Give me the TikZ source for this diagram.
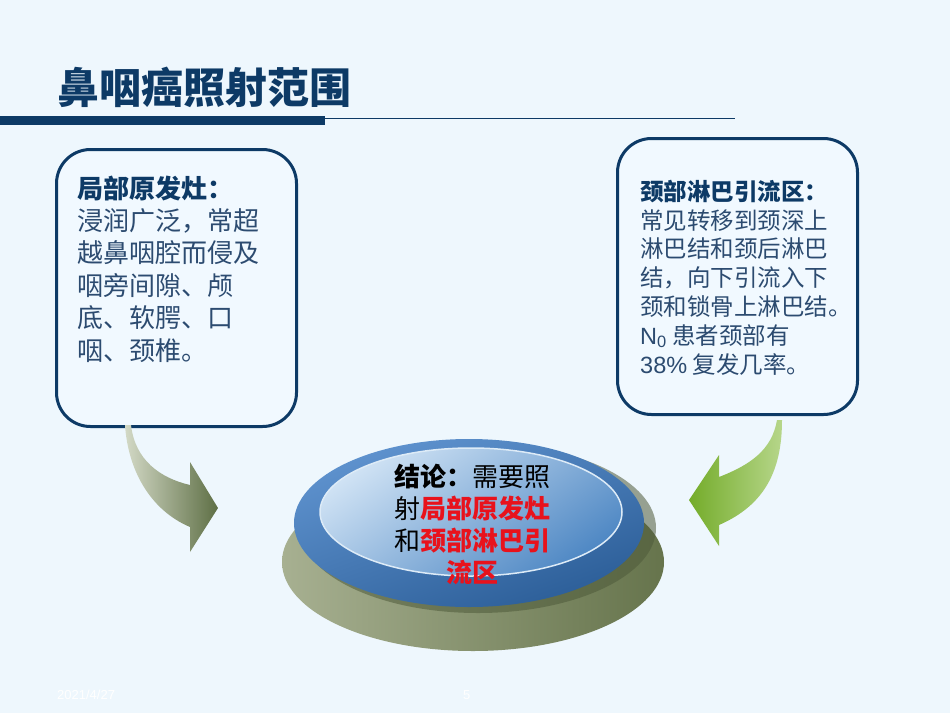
\documentclass[tikz,border=0pt]{standalone}
\usepackage{fontspec}
\setmainfont{Noto Sans CJK SC}
\newfontfamily\latin{Liberation Sans}
\usetikzlibrary{shapes.geometric}
\definecolor{bg}{HTML}{EEF7FD}
\definecolor{boxfill}{HTML}{F1F9FF}
\definecolor{navy}{HTML}{0D3A66}
\definecolor{bodytext}{HTML}{2C4B70}
\definecolor{redtxt}{HTML}{E8121C}
\definecolor{olA}{HTML}{A7B091}
\definecolor{olB}{HTML}{66744C}
\definecolor{olShadow}{HTML}{4E5A3A}
\definecolor{rimA}{HTML}{5F93CF}
\definecolor{rimB}{HTML}{2C5E98}
\definecolor{inA}{HTML}{CFE2F4}
\definecolor{inB}{HTML}{4F88C4}
\definecolor{lgA}{HTML}{D3D9C6}
\definecolor{lgB}{HTML}{5E6F45}
\definecolor{gA}{HTML}{74AC2A}
\definecolor{gB}{HTML}{B6D68A}
\begin{document}
\begin{tikzpicture}[x=1pt,y=-1pt,
  infobox/.style={draw=navy,line width=3pt,fill=boxfill,rounded corners=34pt,anchor=north west,inner sep=0pt},
  boxtext/.style={anchor=base west,align=left,inner sep=0pt,text=bodytext}]
\useasboundingbox (0,0) rectangle (950,713);
\fill[bg] (0,0) rectangle (950,713);

% title and rule
\node[anchor=base west,inner sep=0pt,text=navy,font=\fontsize{42}{50}\selectfont\bfseries] (title) at (57,103) {鼻咽癌照射范围};
\fill[navy] (0,116) rectangle (325,125);
\draw[navy,line width=1.3pt] (325,118.5) -- (735,118.5);

% boxes
\node[infobox,minimum width=240pt,minimum height=277pt] (lbox) at (55,148) {};
\node[infobox,minimum width=240pt,minimum height=276pt] (rbox) at (616,137) {};

% multi-line nodes: base anchor = baseline of last line
\node[boxtext,font=\fontsize{26}{32.4}\selectfont] (ltext) at (77,360)
 {\textbf{\color{navy}局部原发灶：}\\浸润广泛，常超\\越鼻咽腔而侵及\\咽旁间隙、颅\\底、软腭、口\\咽、颈椎。};

\node[boxtext,font=\fontsize{23.5}{28.8}\selectfont] (rtext) at (640,373)
 {\textbf{\color{navy}颈部淋巴引流区：}\\常见转移到颈深上\\淋巴结和颈后淋巴\\结，向下引流入下\\颈和锁骨上淋巴结。\\{\latin N\textsubscript{0}} 患者颈部有\\{\latin 38\%} 复发几率。};

% arrows
\shade[left color=lgA,right color=lgB] (125,425) .. controls (128,470) and (150,510) .. (190,527)
  -- (190,552) -- (218,508) -- (190,462) -- (190,485)
  .. controls (160,478) and (135,460) .. (131,425) -- cycle;
\shade[left color=gA,right color=gB] (782,420) .. controls (782,470) and (765,505) .. (719,525)
  -- (719,546) -- (689,500) -- (719,455) -- (719,477)
  .. controls (750,465) and (772,450) .. (777,420) -- cycle;

% central disc
\node[ellipse,inner sep=0pt,minimum width=382pt,minimum height=178pt,shading=axis,left color=olA,right color=olB] (base) at (473,562) {};
\node[ellipse,inner sep=0pt,minimum width=356pt,minimum height=170pt,fill=olShadow,opacity=0.55] (shadow) at (478,528) {};
\node[ellipse,inner sep=0pt,minimum width=350pt,minimum height=168pt,shading=axis,top color=rimA,bottom color=rimB,shading angle=20] (rim) at (469,523) {};
\node[ellipse,inner sep=0pt,minimum width=302pt,minimum height=128pt,draw=inA!70!white,line width=1.5pt,shading=axis,top color=inA,bottom color=inB,shading angle=35] (disc) at (471,512) {};

\node[anchor=base,align=center,inner sep=0pt,font=\fontsize{26}{32}\selectfont] (concl) at (472,582)
 {\textbf{结论：}需要照\\射\textcolor{redtxt}{\textbf{局部原发灶}}\\和\textcolor{redtxt}{\textbf{颈部淋巴引}}\\\textcolor{redtxt}{\textbf{流区}}};

% footer
\node[anchor=base west,inner sep=0pt,text=white,font=\latin\fontsize{13}{15}\selectfont] (date) at (57,699) {2021/4/27};
\node[anchor=base west,inner sep=0pt,text=white,font=\latin\fontsize{13}{15}\selectfont] (page) at (463,699) {5};
\end{tikzpicture}
\end{document}
